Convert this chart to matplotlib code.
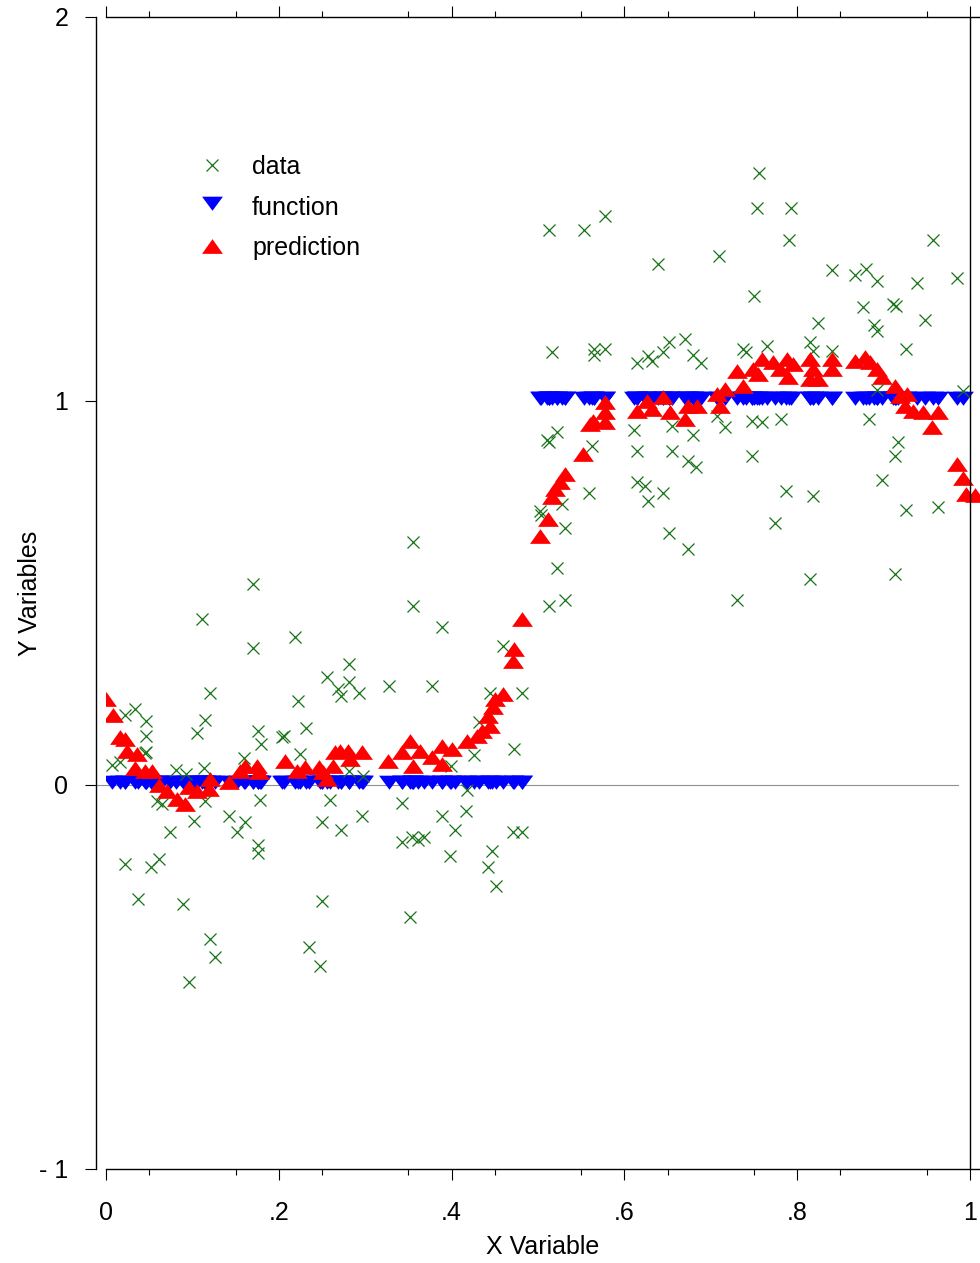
import numpy as np
import matplotlib.pyplot as plt
from matplotlib.lines import Line2D

# noisy observations (x, y)
data_x = [0.170, 0.111, 0.219, 0.170, 0.256, 0.120, 0.222, 0.034, 0.022, 0.046,
          0.115, 0.105, 0.231, 0.176, 0.206, 0.204, 0.046, 0.179, 0.046, 0.045,
          0.007, 0.016, 0.160, 0.225, 0.081, 0.093, 0.113, 0.059, 0.065, 0.115,
          0.178, 0.259, 0.102, 0.142, 0.161, 0.152, 0.074, 0.250, 0.176, 0.176,
          0.022, 0.052, 0.061, 0.037, 0.089, 0.250, 0.120, 0.126, 0.096, 0.235,
          0.248,
          0.355, 0.355, 0.389, 0.459, 0.281, 0.281, 0.269, 0.272, 0.293, 0.328,
          0.377, 0.444, 0.481, 0.432, 0.426, 0.472, 0.399, 0.281, 0.297, 0.418,
          0.272, 0.296, 0.343, 0.389, 0.417, 0.404, 0.343, 0.354, 0.361, 0.368,
          0.398, 0.447, 0.442, 0.451, 0.471, 0.481, 0.352,
          0.513, 0.553, 0.578, 0.639, 0.709, 0.516, 0.565, 0.565, 0.578, 0.615,
          0.627, 0.632, 0.645, 0.652, 0.670, 0.679, 0.689, 0.522, 0.513, 0.511,
          0.562, 0.611, 0.655, 0.679, 0.707, 0.716, 0.615, 0.655, 0.674, 0.683,
          0.559, 0.615, 0.624, 0.627, 0.645, 0.502, 0.503, 0.528, 0.531, 0.652,
          0.674, 0.522, 0.531, 0.513, 0.730,
          0.756, 0.753, 0.793, 0.791, 0.957, 0.840, 0.867, 0.880, 0.892, 0.939,
          0.985, 0.750, 0.876, 0.911, 0.914, 0.824, 0.948, 0.889, 0.892, 0.815,
          0.737, 0.741, 0.765, 0.818, 0.840, 0.926, 0.892, 0.992, 0.748, 0.759,
          0.781, 0.883, 0.917, 0.913, 0.748, 0.898, 0.787, 0.818, 0.926, 0.963,
          0.774, 0.815, 0.913]
data_y = [0.523, 0.432, 0.385, 0.357, 0.281, 0.240, 0.219, 0.198, 0.182, 0.167,
          0.169, 0.135, 0.148, 0.141, 0.128, 0.125, 0.128, 0.107, 0.086, 0.083,
          0.052, 0.060, 0.070, 0.081, 0.039, 0.029, 0.044, -0.042, -0.049, -0.042,
          -0.039, -0.039, -0.094, -0.081, -0.096, -0.122, -0.122, -0.096, -0.156, -0.177,
          -0.206, -0.214, -0.193, -0.297, -0.310, -0.302, -0.401, -0.448, -0.513, -0.422,
          -0.471,
          0.633, 0.466, 0.411, 0.362, 0.315, 0.268, 0.250, 0.232, 0.240, 0.258,
          0.258, 0.240, 0.240, 0.164, 0.078, 0.094, 0.049, 0.036, 0.023, -0.013,
          -0.117, -0.081, -0.047, -0.081, -0.068, -0.117, -0.148, -0.135, -0.143, -0.135,
          -0.185, -0.172, -0.214, -0.263, -0.122, -0.122, -0.344,
          1.445, 1.445, 1.482, 1.357, 1.378, 1.128, 1.135, 1.120, 1.135, 1.099,
          1.117, 1.104, 1.128, 1.154, 1.161, 1.120, 1.099, 0.919, 0.893, 0.898,
          0.883, 0.924, 0.935, 0.911, 0.961, 0.932, 0.870, 0.870, 0.844, 0.828,
          0.760, 0.789, 0.779, 0.740, 0.760, 0.714, 0.703, 0.732, 0.669, 0.656,
          0.615, 0.565, 0.482, 0.466, 0.482,
          1.594, 1.503, 1.503, 1.419, 1.419, 1.341, 1.328, 1.344, 1.313, 1.307,
          1.320, 1.273, 1.245, 1.253, 1.247, 1.203, 1.211, 1.198, 1.182, 1.154,
          1.135, 1.128, 1.143, 1.130, 1.130, 1.135, 1.029, 1.026, 0.948, 0.945,
          0.953, 0.953, 0.893, 0.857, 0.857, 0.794, 0.766, 0.753, 0.716, 0.724,
          0.682, 0.536, 0.549]

# step function evaluated at the observed x
func_y = [0.0 if x < 0.5 else 1.0 for x in data_x]

# model prediction
pred_x = [0.000, 0.008, 0.016, 0.022, 0.024, 0.036, 0.034, 0.045, 0.053, 0.061,
          0.071, 0.082, 0.091, 0.096, 0.105, 0.119, 0.120, 0.142, 0.155, 0.161,
          0.175, 0.177, 0.207, 0.221, 0.230, 0.247, 0.251, 0.256, 0.263, 0.265,
          0.271, 0.280, 0.282, 0.296, 0.326, 0.343, 0.352, 0.355, 0.363, 0.377,
          0.389, 0.389, 0.400, 0.418, 0.429, 0.435, 0.444, 0.442, 0.448, 0.450,
          0.459, 0.471, 0.472, 0.481, 0.502, 0.512, 0.516, 0.520, 0.525, 0.531,
          0.552, 0.560, 0.564, 0.578, 0.578, 0.578, 0.615, 0.626, 0.632, 0.645,
          0.653, 0.670, 0.674, 0.684, 0.707, 0.711, 0.716, 0.730, 0.737, 0.749,
          0.755, 0.759, 0.772, 0.780, 0.788, 0.789, 0.795, 0.815, 0.818, 0.815,
          0.824, 0.840, 0.840, 0.867, 0.878, 0.884, 0.892, 0.898, 0.913, 0.919,
          0.927, 0.925, 0.934, 0.946, 0.963, 0.956, 0.985, 0.992, 0.995, 1.006]
pred_y = [0.224, 0.182, 0.125, 0.120, 0.089, 0.081, 0.044, 0.036, 0.036, 0.000,
          -0.016, -0.036, -0.049, -0.005, -0.016, -0.010, 0.016, 0.008, 0.036, 0.049,
          0.049, 0.034, 0.062, 0.036, 0.047, 0.047, 0.034, 0.016, 0.049, 0.086,
          0.089, 0.089, 0.068, 0.086, 0.062, 0.086, 0.115, 0.049, 0.089, 0.073,
          0.055, 0.102, 0.094, 0.115, 0.128, 0.141, 0.154, 0.180, 0.203, 0.224,
          0.237, 0.323, 0.354, 0.432, 0.648, 0.693, 0.750, 0.771, 0.789, 0.810,
          0.862, 0.940, 0.948, 0.945, 0.971, 0.997, 0.974, 1.000, 0.979, 1.010,
          0.971, 0.953, 0.987, 0.987, 1.018, 0.987, 1.031, 1.078, 1.039, 1.083,
          1.070, 1.109, 1.102, 1.083, 1.109, 1.063, 1.096, 1.109, 1.083, 1.057,
          1.057, 1.109, 1.083, 1.104, 1.115, 1.102, 1.083, 1.063, 1.039, 1.013,
          1.018, 0.987, 0.974, 0.971, 0.971, 0.932, 0.836, 0.799, 0.758, 0.755]

x_ticks = [0, 0.2, 0.4, 0.6, 0.8, 1.0]
x_tick_labels = ["0", ".2", ".4", ".6", ".8", "1"]
y_ticks = [-1, 0, 1, 2]
y_tick_labels = ["- 1", "0", "1", "2"]

plt.rcParams['font.family'] = ['Liberation Sans', 'DejaVu Sans']
plt.rcParams['font.size'] = 18

# flat-ish triangles, wider than tall
tri_up = [(-8.5, -6), (8.5, -6), (0, 6)]
tri_down = [(-8.5, 8), (8.5, 8), (0, -3.5)]
tri_ms = 15
x_ms = 9

fig = plt.figure(figsize=(9.8, 12.63), dpi=100)
ax = fig.add_axes([0.10816, 0.07443, 0.89184, 0.91211])

green = '#177317'
ax.axhline(0, xmin=-0.0103, xmax=0.975, color='#909090', lw=0.8, zorder=1, clip_on=False)
ax.plot(data_x, data_y, 'x', color=green, ms=x_ms, mew=0.9, zorder=3)
ax.plot(data_x, func_y, linestyle='none', marker=tri_down, color='#0000ff',
        ms=tri_ms, mew=0, zorder=2)
ax.plot(pred_x, pred_y, linestyle='none', marker=tri_up, color='#ff0000',
        ms=tri_ms, mew=0, zorder=4)
ax.axvline(1.0, color='black', lw=1.0, zorder=5)

ax.set_xlim(0, 1.0116)
ax.set_ylim(-1, 2)

ax.spines['right'].set_visible(False)
ax.spines['left'].set_position(('outward', 7.2))
for s in ['left', 'bottom', 'top']:
    ax.spines[s].set_linewidth(1.0)

ax.set_xticks(x_ticks)
ax.set_xticklabels(x_tick_labels)
ax.set_xticks(np.arange(0.05, 1.0, 0.1), minor=True)
ax.set_yticks(y_ticks)
ax.set_yticklabels(y_tick_labels)
ax.tick_params(axis='x', which='major', direction='out', length=8, width=0.8,
               top=True, labeltop=False, pad=15)
ax.tick_params(axis='x', which='minor', direction='out', length=4.3, width=0.8, top=True)
ax.tick_params(axis='y', which='major', direction='out', length=8, width=0.8, pad=12)

ax.set_xlabel("X Variable", labelpad=7.5)
ax.set_ylabel("Y Variables", labelpad=-2)

handles = [
    Line2D([], [], linestyle='none', marker='x', color=green, ms=x_ms, mew=0.9),
    Line2D([], [], linestyle='none', marker=tri_down, color='#0000ff', ms=tri_ms, mew=0),
    Line2D([], [], linestyle='none', marker=tri_up, color='#ff0000', ms=tri_ms, mew=0),
]
ax.legend(handles, ["data", "function", "prediction"], loc='upper left',
          bbox_to_anchor=(0.0927, 0.880), frameon=False, borderpad=0,
          borderaxespad=0, handlelength=2.0, handletextpad=0.6, labelspacing=0.66,
          numpoints=1)

plt.savefig('out.png', dpi=100, facecolor='w')
